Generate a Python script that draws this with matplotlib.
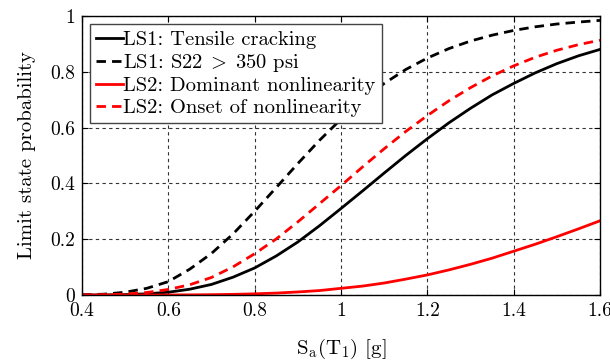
import matplotlib
matplotlib.use("Agg")
import matplotlib.pyplot as plt

plt.rcParams['font.family'] = 'serif'
plt.rcParams['font.serif'] = ['cmr10', 'DejaVu Serif']
plt.rcParams['mathtext.fontset'] = 'cm'
plt.rcParams['axes.formatter.use_mathtext'] = True

# spectral acceleration Sa(T1) [g]
sa = [0.40, 0.45, 0.50, 0.55, 0.60, 0.65, 0.70, 0.75, 0.80, 0.85, 0.90, 0.95, 1.00,
      1.05, 1.10, 1.15, 1.20, 1.25, 1.30, 1.35, 1.40, 1.45, 1.50, 1.55, 1.60]

ls1_tensile = [0.0001, 0.0004, 0.0015, 0.0043, 0.010, 0.021, 0.038, 0.064, 0.097, 0.140,
               0.190, 0.248, 0.310, 0.373, 0.437, 0.500, 0.560, 0.617, 0.669, 0.717,
               0.758, 0.796, 0.829, 0.857, 0.880]
ls1_s22 = [0.0007, 0.003, 0.010, 0.024, 0.048, 0.093, 0.149, 0.219, 0.300, 0.385,
           0.471, 0.554, 0.630, 0.698, 0.758, 0.808, 0.849, 0.883, 0.910, 0.931,
           0.948, 0.961, 0.971, 0.978, 0.984]
ls2_dominant = [0.0, 0.0, 0.0, 0.0001, 0.0003, 0.0006, 0.0013, 0.0024, 0.0043, 0.007,
                0.011, 0.016, 0.024, 0.032, 0.043, 0.057, 0.072, 0.090, 0.110, 0.132,
                0.157, 0.182, 0.209, 0.237, 0.266]
ls2_onset = [0.0002, 0.001, 0.0034, 0.009, 0.020, 0.037, 0.063, 0.101, 0.148, 0.201,
             0.262, 0.327, 0.392, 0.459, 0.524, 0.586, 0.643, 0.696, 0.743, 0.785,
             0.821, 0.852, 0.877, 0.897, 0.913]

x_ticks = [0.4, 0.6, 0.8, 1.0, 1.2, 1.4, 1.6]
x_tick_labels = ['0.4', '0.6', '0.8', '1', '1.2', '1.4', '1.6']
y_ticks = [0, 0.2, 0.4, 0.6, 0.8, 1.0]
y_tick_labels = ['0', '0.2', '0.4', '0.6', '0.8', '1']

fig = plt.figure(figsize=(6.10, 3.62), dpi=100)
ax = fig.add_axes([0.1344, 0.185, 0.8492, 0.771])

dash = (0, (3.4, 2.2))
ax.plot(sa, ls1_tensile, color='black', lw=2.0, label='LS1: Tensile cracking')
ax.plot(sa, ls1_s22, color='black', lw=2.0, ls=dash, label=r'LS1: S22$\;>\;$350 psi')
ax.plot(sa, ls2_dominant, color='red', lw=2.0, label='LS2: Dominant nonlinearity')
ax.plot(sa, ls2_onset, color='red', lw=2.0, ls=dash, label='LS2: Onset of nonlinearity')

ax.set_xlim(0.4, 1.6)
ax.set_ylim(0, 1)
ax.set_xticks(x_ticks)
ax.set_xticklabels(x_tick_labels)
ax.set_yticks(y_ticks)
ax.set_yticklabels(y_tick_labels)
ax.tick_params(direction='in', top=True, right=True, labelsize=14, length=4, pad=5)
ax.grid(True, color='#333333', ls=(0, (3, 3)), lw=0.8)
for s in ax.spines.values():
    s.set_linewidth(1.0)

ax.set_xlabel(r'S$_\mathrm{a}$(T$_1$) [g]', fontsize=15, labelpad=12)
ax.set_ylabel('Limit state probability', fontsize=15, labelpad=10)

leg = ax.legend(loc='upper left', fontsize=14.8, handlelength=1.3, handletextpad=0.0,
                borderaxespad=0.4, labelspacing=0.15, borderpad=0.3, fancybox=False,
                framealpha=1)
leg.get_frame().set_edgecolor('#444444')
leg.get_frame().set_linewidth(1.0)

fig.savefig('out.png', dpi=100)
